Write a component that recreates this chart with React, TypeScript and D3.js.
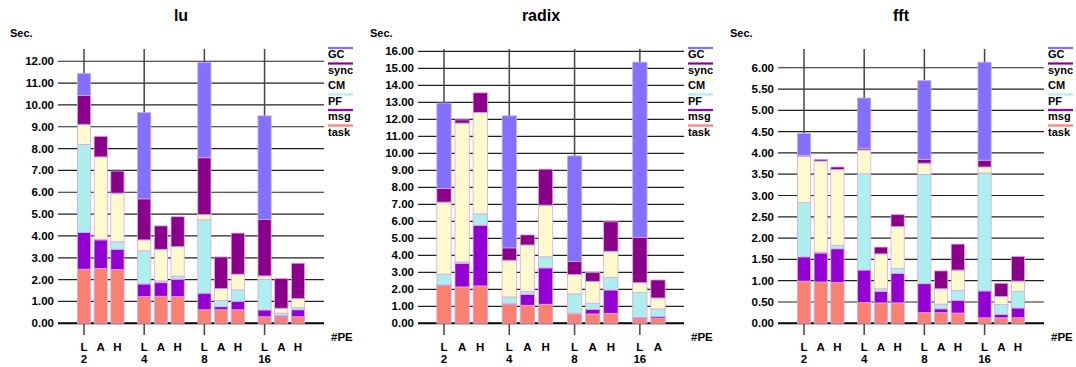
import React from 'react';
import * as d3 from 'd3';

// stack order, bottom to top
const seriesNames = ['task', 'msg', 'PF', 'CM', 'sync', 'GC'];
const seriesColors = ['#fa8072', '#9400d3', '#afeeee', '#fffacd', '#8b008b', '#8470ff'];
const peLabels = ['2', '4', '8', '16'];
const fullModes = ['L', 'A', 'H'];

// lu
const luModes = [fullModes, fullModes, fullModes, fullModes];
const luTask = [2.48, 2.51, 2.46, 1.22, 1.24, 1.22, 0.62, 0.62, 0.62, 0.30, 0.30, 0.30];
const luMsg = [1.68, 1.31, 0.93, 0.58, 0.62, 0.80, 0.76, 0.14, 0.39, 0.31, 0.05, 0.32];
const luPF = [4.03, 0.02, 0.34, 1.52, 0.08, 0.14, 3.36, 0.28, 0.52, 1.41, 0.11, 0.11];
const luCM = [0.92, 3.78, 2.23, 0.50, 1.45, 1.35, 0.24, 0.55, 0.72, 0.15, 0.23, 0.40];
const luSync = [1.32, 0.94, 1.01, 1.88, 1.07, 1.37, 2.60, 1.45, 1.88, 2.58, 1.36, 1.62];
const luGC = [1.01, 0, 0, 3.95, 0, 0, 4.37, 0, 0, 4.75, 0, 0];

// radix (no H run at 16 PE)
const radixModes = [fullModes, fullModes, fullModes, ['L', 'A']];
const radixTask = [2.22, 2.14, 2.20, 1.12, 1.06, 1.12, 0.55, 0.55, 0.59, 0.27, 0.31];
const radixMsg = [0.04, 1.39, 3.57, 0.04, 0.63, 2.14, 0.04, 0.27, 1.37, 0.08, 0.10];
const radixPF = [0.63, 0.08, 0.67, 0.39, 0.17, 0.65, 1.14, 0.36, 0.73, 1.46, 0.43];
const radixCM = [4.24, 8.17, 5.97, 2.16, 2.75, 3.04, 1.14, 1.29, 1.55, 0.58, 0.65];
const radixSync = [0.80, 0.19, 1.15, 0.73, 0.59, 2.12, 0.76, 0.51, 1.73, 2.67, 1.06];
const radixGC = [5.03, 0, 0, 7.77, 0, 0, 6.22, 0, 0, 10.31, 0];

// fft
const fftModes = [fullModes, fullModes, fullModes, fullModes];
const fftTask = [0.99, 0.97, 0.96, 0.49, 0.48, 0.48, 0.25, 0.25, 0.24, 0.13, 0.13, 0.13];
const fftMsg = [0.57, 0.68, 0.79, 0.76, 0.27, 0.69, 0.68, 0.09, 0.30, 0.63, 0.08, 0.23];
const fftPF = [1.28, 0.02, 0.08, 2.26, 0.06, 0.12, 2.56, 0.11, 0.23, 2.77, 0.23, 0.39];
const fftCM = [1.08, 2.14, 1.78, 0.56, 0.82, 0.98, 0.27, 0.36, 0.48, 0.14, 0.19, 0.24];
const fftSync = [0.02, 0.04, 0.06, 0.04, 0.16, 0.28, 0.09, 0.42, 0.61, 0.16, 0.31, 0.58];
const fftGC = [0.52, 0, 0, 1.18, 0, 0, 1.85, 0, 0, 2.30, 0, 0];

const FONT = '"Liberation Sans", Arial, sans-serif';
const GROUP_STRIDE = 3.6; // slots per PE group (3 bars + gap)

interface PanelProps {
  title: string;
  left: number;
  yMax: number;
  tickStep: number;
  tickMax: number;
  modes: string[][];
  values: number[][];
}

const Panel: React.FC<PanelProps> = ({ title, left, yMax, tickStep, tickMax, modes, values }) => {
  const plotTop = 49;
  const plotBottom = 323.3;
  const gridLeft = 58;
  const gridRight = 324;

  const bars: { pos: number; mode: string; group: number; i: number }[] = [];
  modes.forEach((ms, g) => ms.forEach((m, i) => bars.push({ pos: g * GROUP_STRIDE + i, mode: m, group: g, i })));
  const maxPos = d3.max(bars, d => d.pos) as number;

  const x = d3.scaleLinear().domain([0, maxPos]).range([84, 298]);
  const y = d3.scaleLinear().domain([0, yMax]).range([plotBottom, plotTop]);
  const slot = x(1) - x(0);
  const barW = slot * 0.79;

  const rows = bars.map((_, j) => {
    const r: Record<string, number> = {};
    seriesNames.forEach((s, k) => { r[s] = values[k][j]; });
    return r;
  });
  const stacked = d3.stack<Record<string, number>>().keys(seriesNames)(rows);
  const ticks = d3.range(0, tickMax + tickStep / 2, tickStep);
  const fmt = d3.format('.2f');

  return (
    <g transform={`translate(${left},0)`} fontFamily={FONT} fontWeight="bold">
      <text x={181} y={21} textAnchor="middle" fontSize={16}>{title}</text>
      <text x={10} y={37} fontSize={11}>Sec.</text>

      {ticks.map(t => (
        <g key={t}>
          <line x1={gridLeft} x2={gridRight} y1={y(t)} y2={y(t)}
            stroke={t === 0 ? '#000' : '#222'} strokeWidth={t === 0 ? 2 : 1.2} />
          <text x={54} y={y(t) + 4} textAnchor="end" fontSize={11.5}>{fmt(t)}</text>
        </g>
      ))}

      {bars.filter(b => b.i === 0).map(b => (
        <line key={b.group} x1={x(b.pos)} x2={x(b.pos)} y1={plotTop} y2={335}
          stroke="#444" strokeWidth={1.5} />
      ))}

      {stacked.map((layer, k) => (
        <g key={seriesNames[k]} fill={seriesColors[k]}>
          {layer.map((d, j) => (d[1] - d[0] > 0 ? (
            <rect key={j} x={x(bars[j].pos) - barW / 2} y={y(d[1])} width={barW}
              height={y(d[0]) - y(d[1])} stroke="#d8a8e0" strokeWidth={0.8} />
          ) : null))}
        </g>
      ))}

      {bars.map((b, j) => (
        <text key={j} x={x(b.pos)} y={350.5} textAnchor="middle" fontSize={11.5}>{b.mode}</text>
      ))}
      {bars.filter(b => b.i === 0).map(b => (
        <text key={b.group} x={x(b.pos)} y={363} textAnchor="middle" fontSize={11.5}>{peLabels[b.group]}</text>
      ))}
      <text x={331} y={340.5} fontSize={11.5}>#PE</text>

      {seriesNames.slice().reverse().map((s, k) => {
        const c = seriesColors[seriesNames.length - 1 - k];
        const ly = 48 + k * 15.5;
        return (
          <g key={s}>
            <line x1={328} x2={353} y1={ly} y2={ly} stroke={c} strokeWidth={2.2} />
            <text x={328} y={ly + 10} fontSize={11}>{s}</text>
          </g>
        );
      })}
    </g>
  );
};

export default function App() {
  return (
    <svg width={1076} height={367} style={{ position: 'absolute', left: 0, top: 0, background: '#fff' }}>
      <Panel title="lu" left={0} yMax={12.56} tickStep={1} tickMax={12} modes={luModes}
        values={[luTask, luMsg, luPF, luCM, luSync, luGC]} />
      <Panel title="radix" left={360} yMax={16.14} tickStep={1} tickMax={16} modes={radixModes}
        values={[radixTask, radixMsg, radixPF, radixCM, radixSync, radixGC]} />
      <Panel title="fft" left={720} yMax={6.44} tickStep={0.5} tickMax={6} modes={fftModes}
        values={[fftTask, fftMsg, fftPF, fftCM, fftSync, fftGC]} />
    </svg>
  );
}
